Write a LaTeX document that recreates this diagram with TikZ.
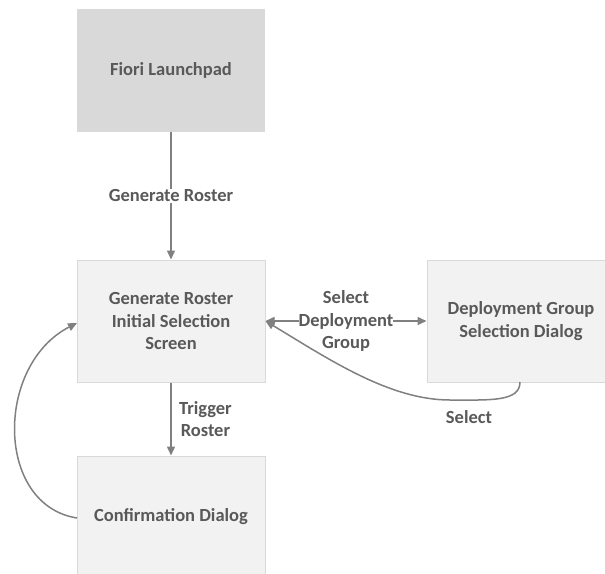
\documentclass[tikz,border=0pt]{standalone}
\usepackage{fontspec}
\setmainfont{Carlito}
\usetikzlibrary{arrows.meta}
\definecolor{txt}{HTML}{595959}
\definecolor{ln}{HTML}{808080}
\definecolor{darkbox}{HTML}{D9D9D9}
\definecolor{lightbox}{HTML}{F2F2F2}
\definecolor{boxline}{HTML}{D9D9D9}
\begin{document}
\begin{tikzpicture}[x=1pt,y=-1pt,
  every node/.style={font=\fontsize{18.5}{22.5}\selectfont\bfseries, text=txt, align=center},
  boxa/.style={minimum width=188pt, minimum height=123pt, inner sep=0pt, fill=darkbox},
  boxb/.style={minimum width=188pt, minimum height=122pt, inner sep=0pt, fill=lightbox, draw=boxline, line width=1pt},
  conn/.style={draw=ln, line width=1.5pt, -{Triangle[length=9pt,width=8pt]}, color=ln},
  lbl/.style={fill=white, inner sep=1pt}]
\useasboundingbox (0,0) rectangle (605,573);
\node[boxa] (fiori) at (171,70.5) {Fiori Launchpad};
\node[boxb] (gen) at (171,321) {Generate Roster\\Initial Selection\\Screen};
\node[boxb] (dep) at (521,321) {Deployment Group\\Selection Dialog};
\node[boxb] (conf) at (171,517) {Confirmation Dialog};
\draw[conn] (fiori) -- node[lbl] {Generate Roster} (gen);
\draw[conn] (gen) -- node[right=4pt, fill=none] {Trigger\\Roster} (conf);
\draw[conn, {Triangle[length=9pt,width=8pt]}-{Triangle[length=9pt,width=8pt]}] (gen.east) -- node[lbl, inner sep=0pt] {Select\\Deployment\\Group} (dep.west);
\coordinate (s0) at (520,382);
\draw[conn] (s0) .. controls (520,402) and (490,400) .. (450,400) .. controls (390,400) and (330,360) .. (gen.east);
\node (sel) at (469,417) {Select};
\coordinate (c0) at (77,518);
\draw[conn] (c0) .. controls (-5,505) and (-5,365) .. (77,323);
\end{tikzpicture}
\end{document}
